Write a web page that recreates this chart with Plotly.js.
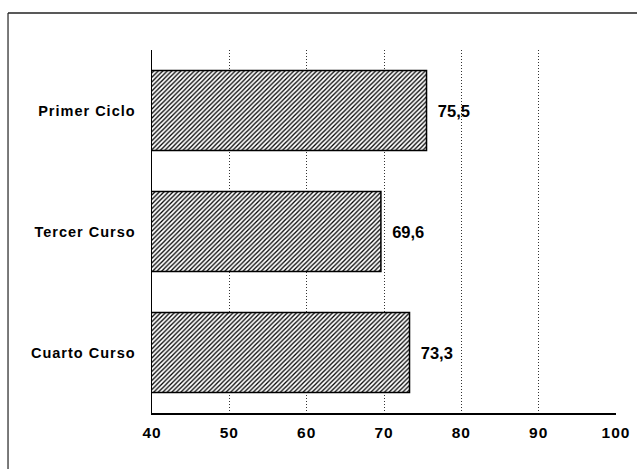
<!DOCTYPE html>
<html><head><meta charset="utf-8">
<script src="https://cdn.plot.ly/plotly-3.0.1.min.js"></script>
<style>
body{margin:0;background:#fff}
#chart .xtick text, #chart .ytick text, #chart .textpoint text { letter-spacing: 1px; }
</style>
</head><body>
<div id="chart" style="width:637px;height:469px"></div>
<script>
const categories = ["Primer Ciclo", "Tercer Curso", "Cuarto Curso"];
const values = [75.5, 69.6, 73.3];
const xTicks = [40, 50, 60, 70, 80, 90, 100];

const trace = {
  type: 'bar', orientation: 'h',
  y: categories, x: values, base: 0,
  width: 0.66,
  marker: {
    color: 'white',
    line: {color: 'black', width: 1.5},
    pattern: {shape: '/', size: 3.2, solidity: 0.4, fgcolor: 'black', bgcolor: 'white'}
  },
  text: values.map(v => '\u2002' + v.toFixed(1).replace('.', ',')),
  textposition: 'outside',
  constraintext: 'none',
  cliponaxis: false,
  textfont: {family: 'Liberation Sans, Arial, sans-serif', size: 16.5, color: 'black', weight: 'bold'},
  hoverinfo: 'none'
};

const layout = {
  width: 637, height: 469,
  margin: {l: 152, r: 21, t: 50, b: 56},
  paper_bgcolor: 'white', plot_bgcolor: 'white',
  showlegend: false,
  separators: ',.',
  font: {family: 'Liberation Sans, Arial, sans-serif', color: 'black'},
  xaxis: {
    range: [40, 100], tickvals: xTicks, ticktext: xTicks.map(String),
    showgrid: true, gridcolor: '#333', griddash: '1px,2px', gridwidth: 1,
    showline: true, linecolor: 'black', linewidth: 1.5,
    ticks: '', zeroline: false, ticklabelstandoff: 5,
    tickfont: {size: 15.5, weight: 'bold', color: 'black'}
  },
  yaxis: {
    type: 'category', autorange: false, range: [2.5, -0.5],
    categoryorder: 'array', categoryarray: categories,
    showline: true, linecolor: 'black', linewidth: 1.5,
    showgrid: false, ticks: '', ticklabelstandoff: 12,
    tickfont: {size: 14.5, weight: 'bold', color: 'black'}
  },
  shapes: [
    {type: 'line', xref: 'paper', yref: 'paper', x0: -0.3103, x1: 1.05, y0: 1.1019, y1: 1.1019, line: {color: '#222', width: 1.5}},
    {type: 'line', xref: 'paper', yref: 'paper', x0: -0.3103, x1: -0.3103, y0: 1.1019, y1: -0.16, line: {color: '#222', width: 1.2}}
  ]
};

Plotly.newPlot('chart', [trace], layout, {staticPlot: true, displayModeBar: false});
</script>
</body></html>
